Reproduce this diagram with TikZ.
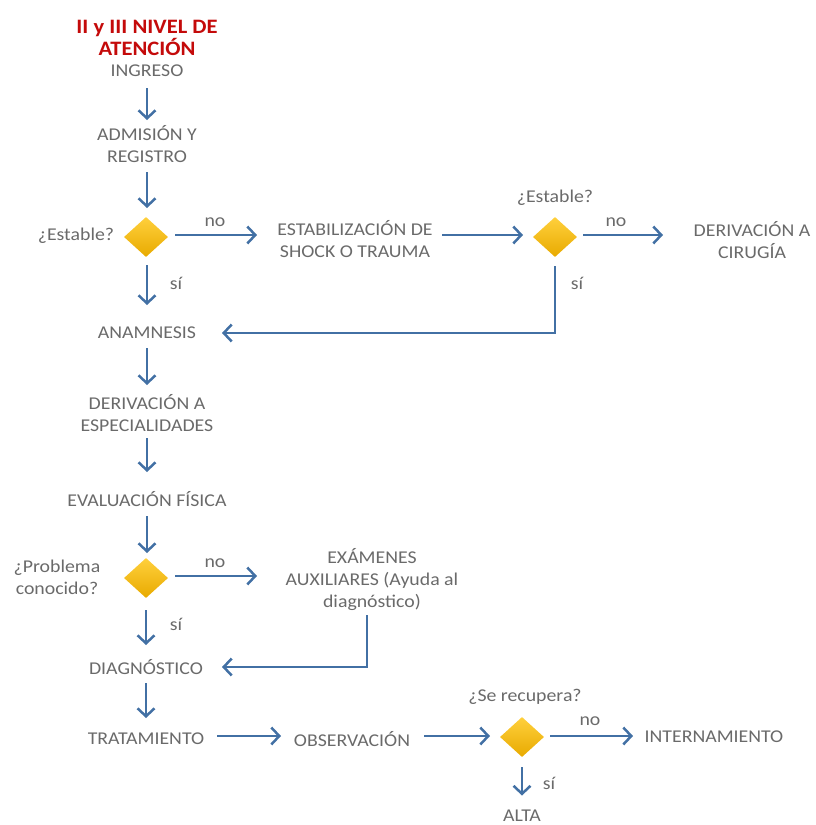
\documentclass[tikz,border=0pt]{standalone}
\usepackage{fontspec}
\setmainfont{Carlito}[FakeStretch=1.1]
\usetikzlibrary{arrows.meta,shapes.geometric}
\definecolor{txtgray}{RGB}{106,106,106}
\definecolor{titlered}{RGB}{196,10,10}
\definecolor{flowblue}{RGB}{66,112,164}
\definecolor{gold1}{RGB}{255,208,60}
\definecolor{gold2}{RGB}{232,170,0}
\tikzset{
  every node/.style={font=\fontsize{18}{22}\selectfont, text=txtgray, inner sep=0pt},
  label txt/.style={align=center},
  title txt/.style={align=center, text=titlered, font=\fontsize{20.5}{22}\selectfont\bfseries},
  decision/.style={diamond, draw=none, minimum width=44pt, minimum height=40pt,
    inner sep=0pt, top color=gold1, bottom color=gold2},
  arr/.style={draw=flowblue, line width=2.8pt,
    -{Straight Barb[length=8pt,width=17pt,line width=2.5pt]}},
}
\begin{document}
\begin{tikzpicture}[x=1pt, y=-1pt]
\useasboundingbox (0,0) rectangle (815,825);

% process steps
\node[title txt] (title) at (147,38) {II y III NIVEL DE\\ATENCIÓN};
\node (ingreso) at (147,71) {INGRESO};
\node[label txt] (admision) at (147,144) {ADMISIÓN Y\\REGISTRO};
\node[decision] (d1) at (146,237) {};
\node (est1) at (76,236) {¿Estable?};
\node[label txt] (estab) at (355,239.5) {ESTABILIZACIÓN DE\\SHOCK O TRAUMA};
\node[decision] (d2) at (555,237) {};
\node (est2) at (555,198) {¿Estable?};
\node[label txt] (cirugia) at (752,240) {DERIVACIÓN A\\CIRUGÍA};
\node (anamnesis) at (147,333) {ANAMNESIS};
\node[label txt] (especial) at (147,413.5) {DERIVACIÓN A\\ESPECIALIDADES};
\node (evaluacion) at (147,499) {EVALUACIÓN FÍSICA};
\node[decision] (d3) at (146,578) {};
\node[label txt] (problema) at (57,577.5) {¿Problema\\conocido?};
\node[label txt] (examenes) at (372,580) {EXÁMENES\\AUXILIARES (Ayuda al\\diagnóstico)};
\node (diagnostico) at (146,667) {DIAGNÓSTICO};
\node (tratamiento) at (146,739) {TRATAMIENTO};
\node (observacion) at (352,739) {OBSERVACIÓN};
\node[decision] (d4) at (522,737) {};
\node (recupera) at (525,697) {¿Se recupera?};
\node (internamiento) at (714,737) {INTERNAMIENTO};
\node (alta) at (522,815.5) {ALTA};

% branch labels
\node (no1) at (215,222) {no};
\node (si1) at (176,283) {sí};
\node (no2) at (616,222) {no};
\node (si2) at (577,283) {sí};
\node (no3) at (215,563) {no};
\node (si3) at (176,624) {sí};
\node (no4) at (590,721) {no};
\node (si4) at (549,783) {sí};

% connectors
\draw[arr, shorten <=17pt, shorten >=24pt] (ingreso.center) -- (admision.center);
\draw[arr, shorten <=28pt, shorten >=29pt] (admision.center) -- (admision.center |- d1.center);
\draw[arr, shorten <=29pt, shorten >=98pt] ([yshift=2pt]d1.center) -- ([yshift=2pt]d1.center -| estab.center);
\draw[arr, shorten <=87pt, shorten >=32pt] ([yshift=2pt]d2.center -| estab.center) -- ([yshift=2pt]d2.center);
\draw[arr, shorten <=28pt, shorten >=89pt] ([yshift=2pt]d2.center) -- ([yshift=2pt]d2.center -| cirugia.center);
\draw[arr, shorten <=28pt, shorten >=28pt] (d1.center -| anamnesis.center) -- (anamnesis.center);
\draw[arr, shorten <=29pt, shorten >=75pt] (d2.center) |- (anamnesis.center);
\draw[arr, shorten <=15pt, shorten >=28.5pt] (anamnesis.center) -- (especial.center);
\draw[arr, shorten <=24.5pt, shorten >=27pt] (especial.center) -- (evaluacion.center);
\draw[arr, shorten <=17pt, shorten >=25pt] (evaluacion.center) -- (evaluacion.center |- d3.center);
\draw[arr, shorten <=29pt, shorten >=115pt] ([yshift=2pt]d3.center) -- ([yshift=2pt]d3.center -| examenes.center);
\draw[arr, shorten <=32pt, shorten >=22pt] (d3.center -| diagnostico.center) -- (diagnostico.center);
\draw[arr, shorten <=35pt, shorten >=76pt] ([xshift=-5pt]examenes.center) |- (diagnostico.center);
\draw[arr, shorten <=16pt, shorten >=21pt] (diagnostico.center) -- (tratamiento.center);
\draw[arr, shorten <=71pt, shorten >=71pt] ([yshift=1pt]d4.center -| tratamiento.center) -- ([yshift=1pt]d4.center -| observacion.center);
\draw[arr, shorten <=72pt, shorten >=32pt] ([yshift=1pt]d4.center -| observacion.center) -- ([yshift=1pt]d4.center);
\draw[arr, shorten <=28pt, shorten >=81pt] ([yshift=1pt]d4.center) -- ([yshift=1pt]d4.center -| internamiento.center);
\draw[arr, shorten <=30pt, shorten >=20pt] (d4.center) -- (d4.center |- alta.center);
\end{tikzpicture}
\end{document}
